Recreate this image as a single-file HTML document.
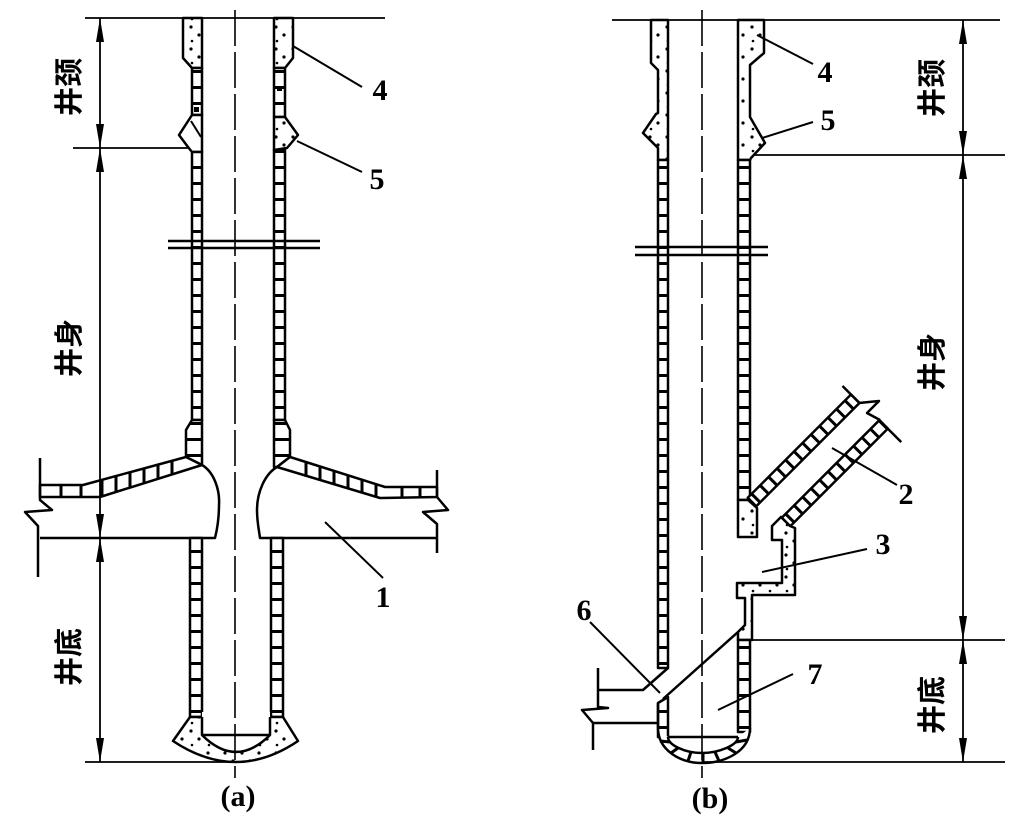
<!DOCTYPE html>
<html>
<head>
<meta charset="utf-8">
<style>
  html,body{margin:0;padding:0;background:#fff;}
  svg{display:block;}
  .n{font-family:"Liberation Serif",serif;font-weight:bold;font-size:30px;fill:#000;}
  .c{font-family:"Liberation Sans","Noto Sans CJK SC",sans-serif;font-size:29px;font-weight:bold;fill:#000;}
</style>
</head>
<body>
<svg width="1025" height="823" viewBox="0 0 1025 823" xmlns="http://www.w3.org/2000/svg">
<defs>
  <pattern id="bh" patternUnits="userSpaceOnUse" width="50" height="16">
    <rect width="50" height="16" fill="#fff"/><rect y="6" width="50" height="3" fill="#000"/>
  </pattern>
  <pattern id="bv" patternUnits="userSpaceOnUse" width="12" height="30">
    <rect width="12" height="30" fill="#fff"/><rect x="4" width="3" height="30" fill="#000"/>
  </pattern>
  <pattern id="dt" patternUnits="userSpaceOnUse" width="17" height="22">
    <rect width="17" height="22" fill="#fff"/>
    <circle cx="4" cy="5" r="1.6" fill="#000"/><circle cx="12" cy="13" r="1.6" fill="#000"/><circle cx="5" cy="19" r="1.3" fill="#000"/>
  </pattern>
</defs>
<rect width="1025" height="823" fill="#fff"/>

<!-- ================= PANEL (a) ================= -->
<g stroke="#000" stroke-width="2.5" stroke-linejoin="round" fill="none">
  <polygon points="183,18 202,18 202,68 192,68 183,58" fill="url(#dt)"/>
  <polygon points="274,18 293,18 293,58 285,68 274,68" fill="url(#dt)"/>
  <rect x="192" y="68" width="10" height="47" fill="url(#bh)"/>
  <rect x="274" y="68" width="11" height="49" fill="url(#bh)"/>
  <polygon points="202,115 192,115 179,135 188,147 192,152 202,152" fill="#fff"/>
  <line x1="191" y1="121" x2="201" y2="137" stroke-width="2"/>
  <polygon points="274,117 285,117 298,135 287,148 274,150" fill="url(#dt)"/>
  <rect x="192" y="152" width="10" height="268" fill="url(#bh)"/>
  <rect x="274" y="150" width="11" height="270" fill="url(#bh)"/>
  <polygon points="192,420 202,420 202,465 186,457 186,430" fill="url(#bh)"/>
  <polygon points="274,420 285,420 290,430 290,457 277,467 274,467" fill="url(#bh)"/>
  <polygon points="186,457 83,485 40,485 40,497 100,497 202,465" fill="#fff"/>
  <polygon points="290,457 385,487 437,487 437,497 380,498 277,467" fill="#fff"/>
  <path d="M202,465 C214,472 220,490 219,505 C219,520 217,530 215,538 L40,538"/>
  <path d="M277,467 C265,474 257,492 257,510 C257,522 259,530 260,538 L437,538"/>
  <polyline points="40,458 40,500 52,510 25,512 38,526 38,577"/>
  <polyline points="437,470 437,497 448,510 423,512 437,524 437,553"/>
  <rect x="190" y="538" width="12" height="179" fill="url(#bh)"/>
  <rect x="271" y="538" width="12" height="179" fill="url(#bh)"/>
  <path d="M190,717 L173,741 Q236,783 298,741 L283,717 Z" fill="url(#dt)"/>
  <path d="M202,712 L202,735 Q236,769 270,735 L270,712 Z" fill="#fff" stroke="none"/>
  <path d="M202,717 L202,735 Q236,769 270,735 L270,717"/>
  <line x1="202" y1="735" x2="270" y2="735"/>
</g>
<g stroke="#000" stroke-width="3">
  <line x1="61" y1="485" x2="61" y2="497"/>
  <line x1="81" y1="485" x2="81" y2="497"/>
  <line x1="102" y1="480" x2="102" y2="496"/>
  <line x1="116" y1="476" x2="116" y2="492"/>
  <line x1="130" y1="472" x2="130" y2="488"/>
  <line x1="144" y1="468" x2="144" y2="483"/>
  <line x1="158" y1="465" x2="158" y2="479"/>
  <line x1="172" y1="461" x2="172" y2="474"/>
  <line x1="306" y1="462" x2="306" y2="476"/>
  <line x1="320" y1="466" x2="320" y2="480"/>
  <line x1="334" y1="471" x2="334" y2="484"/>
  <line x1="348" y1="475" x2="348" y2="488"/>
  <line x1="362" y1="480" x2="362" y2="493"/>
  <line x1="376" y1="484" x2="376" y2="497"/>
  <line x1="402" y1="487" x2="402" y2="497"/>
  <line x1="420" y1="487" x2="420" y2="497"/>
</g>
<rect x="194" y="107" width="5" height="5" fill="#000"/>
<rect x="277" y="86" width="5" height="5" fill="#000"/>

<line x1="235" y1="10" x2="235" y2="778" stroke="#000" stroke-width="1.6" stroke-dasharray="36 6"/>
<g stroke="#000" stroke-width="2.5">
  <line x1="168" y1="241" x2="320" y2="241"/>
  <line x1="168" y1="248" x2="320" y2="248"/>
</g>
<g stroke="#000" stroke-width="1.8">
  <line x1="85" y1="18" x2="385" y2="18"/>
  <line x1="73" y1="148" x2="188" y2="148"/>
  <line x1="85" y1="762" x2="236" y2="762"/>
  <line x1="100" y1="18" x2="100" y2="762"/>
</g>
<g fill="#000">
  <polygon points="100,18 96,42 104,42"/>
  <polygon points="100,148 96,124 104,124"/>
  <polygon points="100,148 96,172 104,172"/>
  <polygon points="100,538 96,514 104,514"/>
  <polygon points="100,538 96,562 104,562"/>
  <polygon points="100,762 96,738 104,738"/>
</g>
<g stroke="#000" stroke-width="2">
  <line x1="293" y1="46" x2="362" y2="87"/>
  <line x1="297" y1="141" x2="362" y2="172"/>
  <line x1="325" y1="522" x2="383" y2="578"/>
</g>
<text class="n" x="380" y="100" text-anchor="middle">4</text>
<text class="n" x="377" y="189" text-anchor="middle">5</text>
<text class="n" x="383" y="607" text-anchor="middle">1</text>
<text class="n" x="238" y="806" text-anchor="middle">(a)</text>
<text class="c" transform="translate(70,87) rotate(-90)" text-anchor="middle" dominant-baseline="central">井颈</text>
<text class="c" transform="translate(70,348) rotate(-90)" text-anchor="middle" dominant-baseline="central">井身</text>
<text class="c" transform="translate(70,657) rotate(-90)" text-anchor="middle" dominant-baseline="central">井底</text>

<!-- ================= PANEL (b) ================= -->
<g stroke="#000" stroke-width="2.5" stroke-linejoin="round" fill="none">
  <polygon points="651,20 668,20 668,160 658,160 658,148 643,133 656,114 658,113 658,70 651,63" fill="url(#dt)"/>
  <polygon points="738,20 764,20 764,53 750,65 750,117 765,143 751,158 750,160 738,160" fill="url(#dt)"/>
  <rect x="658" y="160" width="10" height="508" fill="url(#bh)"/>
  <rect x="738" y="160" width="12" height="340" fill="url(#bh)"/>
  <g transform="translate(752,502) rotate(-45)">
    <rect x="0" y="-6" width="146" height="12" fill="url(#bv)"/>
    <line x1="146" y1="-18" x2="146" y2="6"/>
  </g>
  <g transform="translate(786,522) rotate(-45)">
    <rect x="0" y="-6" width="138" height="12" fill="url(#bv)"/>
    <line x1="138" y1="-6" x2="138" y2="25"/>
  </g>
  <polyline points="859,403 879,401 867,413 880,420"/>
  <polygon points="738,500 748,500 757,508 757,537 738,537" fill="url(#dt)"/>
  <path d="M772,540 L772,526 L781,517 L790,526 L795,528 L795,595 L752,595 L752,640 L738,640 L738,632 L745,625 L745,598 L737,598 L737,583 L782,583 L782,540 Z" fill="url(#dt)"/>
  <rect x="738" y="640" width="12" height="92" fill="url(#bh)"/>
  <polygon points="658,703 668,697 668,737 658,737" fill="url(#bh)"/>
  <path d="M658,728 C658,750 680,763 702,763 C724,763 750,752 750,728 L738,737 C738,745 719,753 702,753 C685,753 668,745 668,737 Z" fill="#fff" stroke="none"/>
  <path d="M658,703 L658,728 C658,750 680,763 702,763 C724,763 750,752 750,728"/>
  <path d="M668,737 C668,745 685,753 702,753 C719,753 738,745 738,737"/>
  <line x1="668" y1="737" x2="738" y2="737"/>
  <line x1="738" y1="632" x2="663" y2="699"/>
  <polyline points="668,668 643,690 598,690"/>
  <polyline points="598,668 598,707 608,708 582,710 593,723 593,750"/>
  <line x1="593" y1="723" x2="658" y2="723"/>
</g>
<g stroke="#000" stroke-width="3">
  <line x1="670" y1="742" x2="660" y2="741"/>
  <line x1="678" y1="748" x2="671" y2="753"/>
  <line x1="691" y1="752" x2="688" y2="761"/>
  <line x1="703" y1="753" x2="703" y2="763"/>
  <line x1="715" y1="752" x2="719" y2="761"/>
  <line x1="728" y1="748" x2="736" y2="753"/>
  <line x1="736" y1="742" x2="747" y2="740"/>
</g>

<line x1="702" y1="10" x2="702" y2="778" stroke="#000" stroke-width="1.6" stroke-dasharray="36 6"/>
<g stroke="#000" stroke-width="2.5">
  <line x1="635" y1="247" x2="768" y2="247"/>
  <line x1="635" y1="255" x2="768" y2="255"/>
</g>
<g stroke="#000" stroke-width="1.8">
  <line x1="612" y1="20" x2="1000" y2="20"/>
  <line x1="755" y1="155" x2="1005" y2="155"/>
  <line x1="752" y1="640" x2="1005" y2="640"/>
  <line x1="702" y1="762" x2="1005" y2="762"/>
  <line x1="963" y1="20" x2="963" y2="762"/>
</g>
<g fill="#000">
  <polygon points="963,20 959,44 967,44"/>
  <polygon points="963,155 959,131 967,131"/>
  <polygon points="963,155 959,179 967,179"/>
  <polygon points="963,640 959,616 967,616"/>
  <polygon points="963,640 959,664 967,664"/>
  <polygon points="963,762 959,738 967,738"/>
</g>
<g stroke="#000" stroke-width="2">
  <line x1="757" y1="35" x2="813" y2="64"/>
  <line x1="762" y1="138" x2="813" y2="122"/>
  <line x1="832" y1="448" x2="897" y2="485"/>
  <line x1="762" y1="572" x2="867" y2="549"/>
  <line x1="590" y1="622" x2="660" y2="693"/>
  <line x1="718" y1="710" x2="793" y2="674"/>
</g>
<text class="n" x="825" y="82" text-anchor="middle">4</text>
<text class="n" x="828" y="130" text-anchor="middle">5</text>
<text class="n" x="906" y="504" text-anchor="middle">2</text>
<text class="n" x="883" y="554" text-anchor="middle">3</text>
<text class="n" x="584" y="620" text-anchor="middle">6</text>
<text class="n" x="815" y="684" text-anchor="middle">7</text>
<text class="n" x="710" y="808" text-anchor="middle">(b)</text>
<text class="c" transform="translate(933,88) rotate(-90)" text-anchor="middle" dominant-baseline="central">井颈</text>
<text class="c" transform="translate(933,362) rotate(-90)" text-anchor="middle" dominant-baseline="central">井身</text>
<text class="c" transform="translate(933,705) rotate(-90)" text-anchor="middle" dominant-baseline="central">井底</text>
</svg>
</body>
</html>
